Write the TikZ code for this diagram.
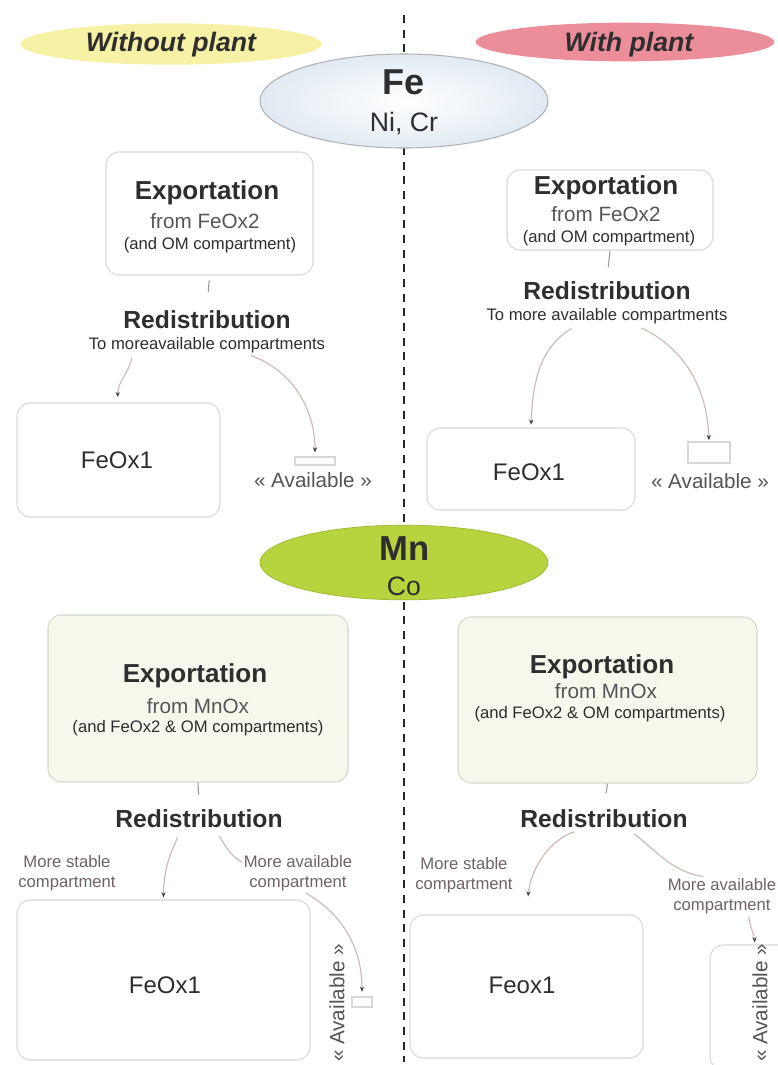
\documentclass[tikz,border=0pt]{standalone}
\usepackage{fontspec}
\setmainfont{Liberation Sans}
\usetikzlibrary{arrows.meta,shapes.geometric,positioning}
\definecolor{ink}{HTML}{2E2E2E}
\definecolor{softink}{HTML}{555555}
\definecolor{labelbrown}{HTML}{6F6262}
\definecolor{Lemon}{HTML}{F6F1A4}
\definecolor{Rose}{HTML}{EC8E9A}
\definecolor{Lime}{HTML}{B7D43F}
\definecolor{LimeEdge}{HTML}{9FBB33}
\definecolor{Frost}{HTML}{E1EAF3}
\definecolor{edge}{HTML}{D8D8D8}
\definecolor{Pale}{HTML}{F4F9EC}
\definecolor{paleedge}{HTML}{D3DACB}
\definecolor{flowcol}{HTML}{CDBDB8}

\begin{document}
\begin{tikzpicture}[x=0.75pt,y=0.75pt,
  sideoval/.style={ellipse,minimum width=226pt,minimum height=31pt,inner sep=0pt},
  sidetext/.style={font=\fontsize{20}{24}\selectfont\bfseries\itshape,text=ink,inner sep=1pt,anchor=base},
  metaloval/.style={ellipse,inner sep=0pt,minimum width=216pt},
  bigsym/.style={font=\fontsize{27}{30}\selectfont\bfseries,text=ink,inner sep=1pt,anchor=base},
  subsym/.style={font=\fontsize{20}{24}\selectfont,text=ink,inner sep=1pt,anchor=base},
  compbox/.style={rectangle,rounded corners=10pt,draw=edge,line width=0.8pt,fill=white,inner sep=0pt},
  expbox/.style={compbox,fill=Pale,draw=paleedge},
  availbox/.style={rectangle,draw=edge,line width=0.8pt,fill=white,inner sep=0pt},
  headtext/.style={font=\fontsize{19.5}{23}\selectfont\bfseries,text=ink,inner sep=1pt,anchor=base},
  fromtext/.style={font=\fontsize{15.5}{18}\selectfont,text=softink,inner sep=1pt,anchor=base},
  notetext/.style={font=\fontsize{12.5}{15}\selectfont,text=ink,inner sep=1pt,anchor=base},
  redtext/.style={font=\fontsize{18.5}{22}\selectfont\bfseries,text=ink,inner sep=1pt,anchor=base},
  oxtext/.style={font=\fontsize{18}{21}\selectfont,text=ink,inner sep=1pt,anchor=base},
  availtext/.style={font=\fontsize{15.5}{18}\selectfont,text=softink,inner sep=1pt},
  pathlabel/.style={font=\fontsize{12.5}{15}\selectfont,text=labelbrown,align=center,inner sep=1pt},
  flow/.style={-{Stealth[length=4pt,width=3.2pt,color=black!75]},draw=flowcol,line width=0.9pt},
  link/.style={draw=flowcol,line width=0.9pt},
  tickline/.style={draw=black!40,line width=0.8pt},
  divider/.style={draw=black!85,line width=1.3pt,dash pattern=on 6pt off 5pt}]
  \useasboundingbox (0,0) rectangle (778,-1065);

  % separation without / with plant
  \coordinate (divtop) at (404,-15);
  \coordinate (divbot) at (404,-1062);
  \draw[divider] (divtop) -- (divbot);

  \node[sideoval,fill=Lemon] (noplant) at (171,-44) {};
  \node[sideoval,fill=Rose,minimum width=224pt,minimum height=29pt] (plant) at (625,-42) {};
  \node[sidetext] (noplantt) at (171,-51) {Without plant};
  \node[sidetext] (plantt) at (629,-51) {With plant};

  % Fe group
  \node[metaloval,draw=black!30,line width=0.8pt,inner color=white,outer color=Frost,minimum height=70.5pt] (fe) at (404,-101) {};
  \node[bigsym] (fet) at (404,-94) {Fe};
  \node[subsym] (fesub) at (404,-131) {Ni, Cr};

  \node[compbox,minimum width=155.25pt,minimum height=92.25pt] (expTL) at (209.5,-213.5) {};
  \node[headtext] (expTLt) at (207,-199) {Exportation};
  \node[fromtext] (expTLf) at (205,-228) {from FeOx2};
  \node[notetext] (expTLn) at (210,-249) {(and OM compartment)};
  \node[redtext] (redTL) at (207,-328) {Redistribution};
  \node[notetext] (subTL) at (207,-349) {To moreavailable compartments};
  \node[compbox,minimum width=152.25pt,minimum height=85.5pt] (feTL) at (118.5,-460) {};
  \node[oxtext] (feTLt) at (117,-468) {FeOx1};
  \node[availbox,minimum width=30pt,minimum height=6pt] (avTL) at (315,-461) {};
  \node[availtext,anchor=base] (avTLt) at (313,-487) {« Available »};

  \node[compbox,minimum width=154.5pt,minimum height=60pt] (expTR) at (610,-210) {};
  \node[headtext] (expTRt) at (606,-194) {Exportation};
  \node[fromtext] (expTRf) at (606,-221) {from FeOx2};
  \node[notetext] (expTRn) at (609,-242) {(and OM compartment)};
  \node[redtext] (redTR) at (607,-299) {Redistribution};
  \node[notetext] (subTR) at (607,-320) {To more available compartments};
  \node[compbox,minimum width=156pt,minimum height=61.5pt] (feTR) at (531,-469) {};
  \node[oxtext] (feTRt) at (529,-480) {FeOx1};
  \node[availbox,minimum width=31.5pt,minimum height=15.75pt] (avTR) at (709,-452.5) {};
  \node[availtext,anchor=base] (avTRt) at (710,-488) {« Available »};

  \draw[tickline,shorten <=3.75pt,shorten >=12.5pt] (expTL.south) -- (redTL.north);
  \draw[tickline,shorten >=9.5pt] (expTR.south) -- (redTR.north);
  \draw[flow,shorten <=3pt,shorten >=4pt] ([xshift=-56pt]subTL.south) to[out=-100,in=95] (feTL.north);
  \draw[flow,shorten <=3pt,shorten >=3pt] ([xshift=30pt]subTL.south) to[out=-20,in=90] (avTL.north);
  \draw[flow,shorten <=5pt,shorten >=2pt] ([xshift=-22pt]subTR.south) to[out=210,in=88] (feTR.north);
  \draw[flow,shorten <=5pt,shorten >=1pt] ([xshift=21pt]subTR.south) to[out=-25,in=92] (avTR.north);

  % Mn group
  \node[metaloval,fill=Lime,draw=LimeEdge,line width=0.6pt,minimum height=56pt] (mn) at (404,-562.5) {};
  \node[bigsym,font=\fontsize{26}{30}\selectfont\bfseries] (mnt) at (405,-560) {Mn};
  \node[subsym] (mnsub) at (404,-595) {Co};

  \node[expbox,minimum width=225pt,minimum height=125.25pt] (expBL) at (198,-698.5) {};
  \node[headtext] (expBLt) at (195,-682) {Exportation};
  \node[fromtext] (expBLf) at (198,-713) {from MnOx};
  \node[notetext] (expBLn) at (198,-732) {(and FeOx2 \& OM compartments)};
  \node[redtext] (redBL) at (199,-827) {Redistribution};
  \node[pathlabel] (msBL) at (67,-873) {More stable\\compartment};
  \node[pathlabel] (mavBL) at (298,-873) {More available\\compartment};
  \node[compbox,minimum width=219.75pt,minimum height=120pt] (feBL) at (163.5,-980) {};
  \node[oxtext] (feBLt) at (165,-993) {FeOx1};
  \node[availbox,minimum width=15pt,minimum height=7.5pt] (avBL) at (362,-1002) {};
  \node[availtext,rotate=90] (avBLt) at (337,-1003) {« Available »};

  \node[expbox,minimum width=224.25pt,minimum height=124.5pt] (expBR) at (607.5,-700) {};
  \node[headtext] (expBRt) at (602,-673) {Exportation};
  \node[fromtext] (expBRf) at (606,-698) {from MnOx};
  \node[notetext] (expBRn) at (600,-718) {(and FeOx2 \& OM compartments)};
  \node[redtext] (redBR) at (604,-827) {Redistribution};
  \node[pathlabel] (msBR) at (464,-875) {More stable\\compartment};
  \node[pathlabel] (mavBR) at (722,-896) {More available\\compartment};
  \node[compbox,minimum width=174.75pt,minimum height=107.25pt] (feBR) at (526.5,-986.5) {};
  \node[oxtext] (feBRt) at (522,-993) {Feox1};
  \node[compbox,minimum width=67.5pt,minimum height=93.75pt] (avBR) at (755,-1007.5) {};
  \node[availtext,rotate=90] (avBRt) at (760,-1003) {« Available »};

  \draw[tickline,shorten >=9.5pt] (expBL.south) -- (redBL.north);
  \draw[tickline,shorten >=11pt] (expBR.south) -- (redBR.north);
  \draw[flow,shorten <=7pt,shorten >=1.5pt] ([xshift=-13pt]redBL.south) to[out=-115,in=90] (feBL.north);
  \draw[link,shorten <=7pt] ([xshift=10.5pt]redBL.south) to[out=-50,in=150] ([yshift=8pt]mavBL.west);
  \draw[flow,shorten <=1pt,shorten >=3.5pt] ([xshift=5pt]mavBL.south) to[out=-30,in=90] (avBL.north);
  \draw[flow,shorten <=6.5pt,shorten >=13.5pt] ([xshift=-16.5pt]redBR.south) to[out=200,in=85] (feBR.north);
  \draw[link,shorten <=6.5pt] ([xshift=17pt]redBR.south) to[out=-35,in=170] ([xshift=-14pt]mavBR.north);
  \draw[flow,shorten <=1pt,shorten >=1.5pt] ([xshift=20pt]mavBR.south) to[out=-85,in=95] (avBR.north);
\end{tikzpicture}
\end{document}
